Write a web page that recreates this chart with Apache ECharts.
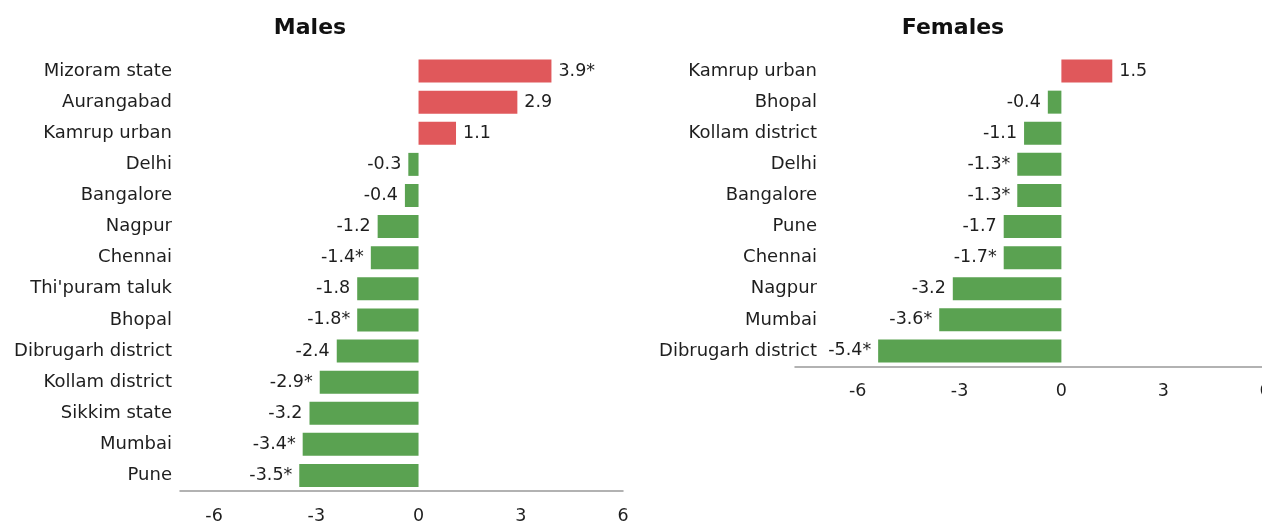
<!DOCTYPE html>
<html><head><meta charset="utf-8">
<script src="https://cdn.jsdelivr.net/npm/echarts@6/dist/echarts.min.js"></script>
<style>html,body{margin:0;padding:0;background:#fff}#c{width:1262px;height:522px}</style>
</head><body><div id="c"></div>
<script>
const maleCats = ["Mizoram state","Aurangabad","Kamrup urban","Delhi","Bangalore","Nagpur","Chennai","Thi'puram taluk","Bhopal","Dibrugarh district","Kollam district","Sikkim state","Mumbai","Pune"];
const maleVals = [3.9,2.9,1.1,-0.3,-0.4,-1.2,-1.4,-1.8,-1.8,-2.4,-2.9,-3.2,-3.4,-3.5];
const maleSig = [true,false,false,false,false,false,true,false,true,false,true,false,true,true];
const femaleCats = ["Kamrup urban","Bhopal","Kollam district","Delhi","Bangalore","Pune","Chennai","Nagpur","Mumbai","Dibrugarh district"];
const femaleVals = [1.5,-0.4,-1.1,-1.3,-1.3,-1.7,-1.7,-3.2,-3.6,-5.4];
const femaleSig = [false,false,false,true,true,false,true,false,true,true];
const tickVals = [-6,-3,0,3,6];

const RED = '#E0585B', GREEN = '#5AA251';
const FONT = 'DejaVu Sans';
const TXT = '#1e1e1e';

function mkData(vals, sig){
  return vals.map((v,i)=>({
    value: v,
    itemStyle:{color: v>=0?RED:GREEN},
    label:{show:true, position: v>=0?'right':'left', distance:7,
      formatter: String(v) + (sig[i]?'*':''),
      color:TXT, fontFamily:FONT, fontSize:17.5}
  }));
}

const chart = echarts.init(document.getElementById('c'), null, {renderer:'canvas'});
const grids = [
  {left:180, right:1262-623, top:55.5, bottom:522-491, outerBoundsMode:'none', containLabel:false},
  {left:795, right:-3, top:55.5, bottom:522-366.5, outerBoundsMode:'none', containLabel:false}
];
const xAxisCommon = (gi, min, max)=>({
  type:'value', gridIndex:gi, min:min, max:max,
  splitLine:{show:false},
  axisTick:{show:false},
  axisLine:{show:true, onZero:false, lineStyle:{color:'#999', width:1.5}},
  axisLabel:{customValues:tickVals, margin:16, color:TXT, fontFamily:FONT, fontSize:17.5}
});
const yAxisCommon = (gi, cats, offset)=>({
  type:'category', gridIndex:gi, data:cats, inverse:true, offset:offset,
  axisLine:{show:false, onZero:false}, axisTick:{show:false},
  axisLabel:{margin:8, color:TXT, fontFamily:FONT, fontSize:18}
});
chart.setOption({
  animation:false,
  title:[
    {text:'Males', left:305, top:12, textAlign:'center', textStyle:{fontFamily:FONT, fontWeight:'bold', fontSize:22, color:'#111'}},
    {text:'Females', left:948, top:12, textAlign:'center', textStyle:{fontFamily:FONT, fontWeight:'bold', fontSize:22, color:'#111'}}
  ],
  grid:grids,
  xAxis:[xAxisCommon(0,-7,6), xAxisCommon(1,-7.85,6)],
  yAxis:[yAxisCommon(0,maleCats,0), yAxisCommon(1,femaleCats,-30)],
  series:[
    {type:'bar', xAxisIndex:0, yAxisIndex:0, barWidth:23, data:mkData(maleVals,maleSig)},
    {type:'bar', xAxisIndex:1, yAxisIndex:1, barWidth:23, data:mkData(femaleVals,femaleSig)}
  ]
});
</script></body></html>
